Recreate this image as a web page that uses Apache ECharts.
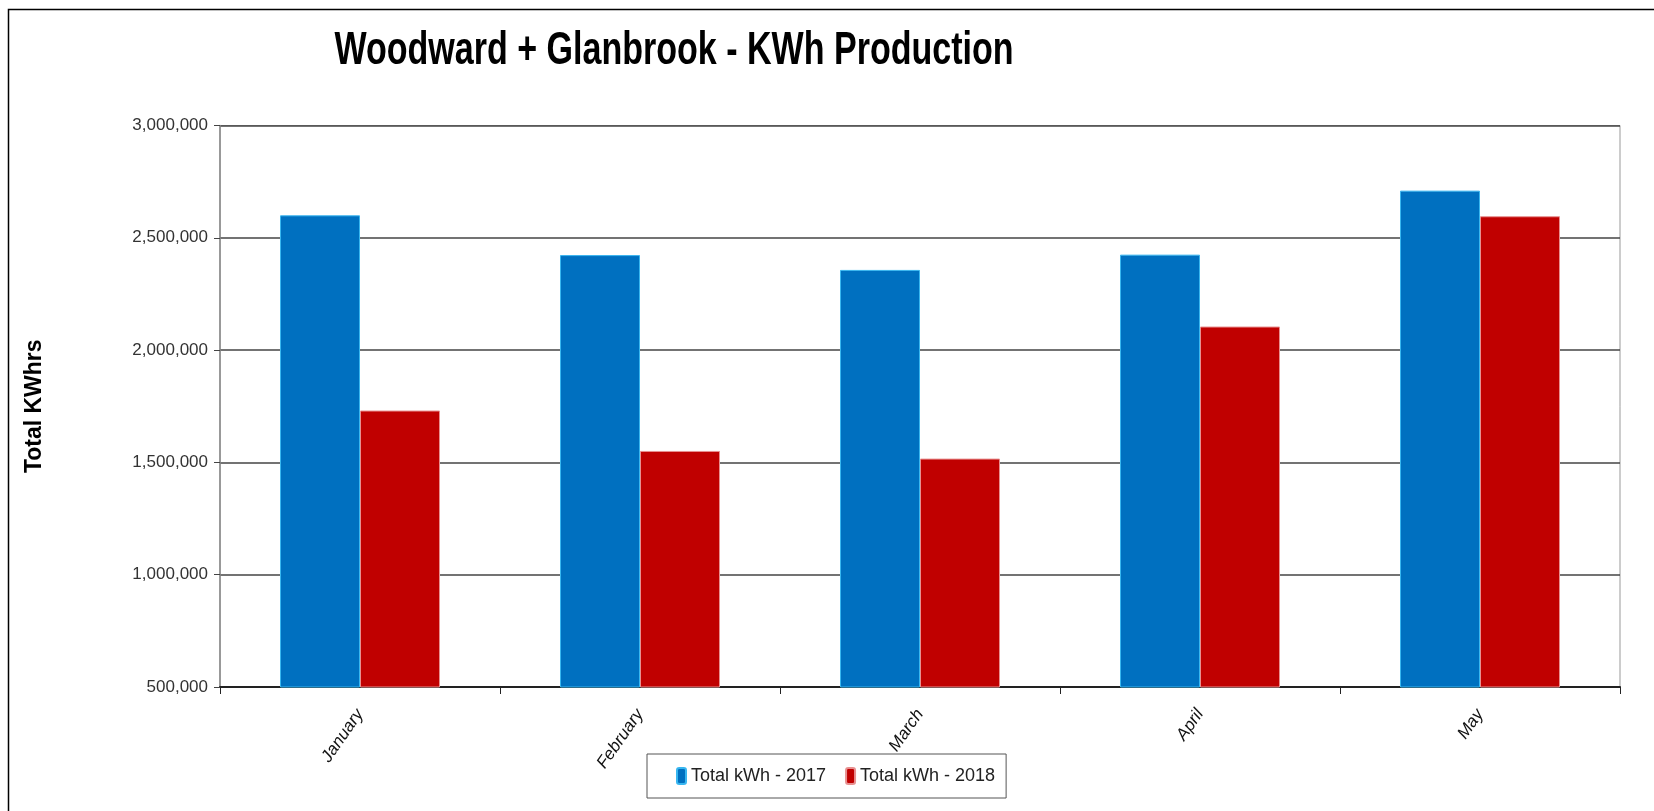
<!DOCTYPE html>
<html>
<head>
<meta charset="utf-8">
<script src="https://cdn.jsdelivr.net/npm/echarts@6/dist/echarts.min.js"></script>
<style>
html,body{margin:0;padding:0;background:#fff;}
#chart{width:1654px;height:811px;}
</style>
</head>
<body>
<div id="chart"></div>
<script>
const categories = ['January', 'February', 'March', 'April', 'May'];
const kwh2017 = [2600000, 2423000, 2357000, 2425000, 2710000];
const kwh2018 = [1731000, 1551000, 1517000, 2105000, 2596000];
const seriesNames = ['Total kWh - 2017', 'Total kWh - 2018'];
const titleText = 'Woodward + Glanbrook - KWh Production';
const yAxisName = 'Total KWhrs';

const chart = echarts.init(document.getElementById('chart'), null, {renderer: 'canvas'});
chart.setOption({
  animation: false,
  backgroundColor: '#fff',
  graphic: [{
    type: 'rect', left: 6, top: 7, silent: true,
    shape: {width: 1700, height: 900},
    style: {fill: 'none', stroke: '#000', lineWidth: 1.5}
  }, {
    type: 'text', x: 674, y: 51, scaleX: 0.74, silent: true,
    style: {
      text: titleText, fill: '#000',
      font: 'bold 46px "Liberation Sans", Arial, sans-serif',
      align: 'center', verticalAlign: 'middle'
    }
  }],
  legend: {
    data: seriesNames,
    left: 647, top: 754,
    padding: [13, 11, 13, 29],
    borderColor: '#555', borderWidth: 1,
    itemWidth: 9, itemHeight: 16, itemGap: 19,
    textStyle: {fontFamily: '"Liberation Sans", Arial', fontSize: 18, color: '#222'}
  },
  grid: {
    left: 220, right: 34, top: 125.5, bottom: 124,
    show: true, borderColor: '#999', borderWidth: 1
  },
  xAxis: {
    type: 'category', data: categories, boundaryGap: true,
    axisLine: {show: true, lineStyle: {color: '#222', width: 2}},
    axisTick: {show: true, length: 7, lineStyle: {color: '#222'}},
    axisLabel: {rotate: 55, fontStyle: 'italic', fontFamily: '"Liberation Sans", Arial', fontSize: 17, color: '#111', margin: 24}
  },
  yAxis: {
    type: 'value', min: 500000, max: 3000000, interval: 500000,
    name: yAxisName, nameLocation: 'middle', nameGap: 174, nameRotate: 90,
    nameTextStyle: {fontFamily: '"Liberation Sans", Arial', fontWeight: 'bold', fontSize: 23, color: '#000'},
    axisLine: {show: true, lineStyle: {color: '#888', width: 1.5}},
    axisTick: {show: true, length: 6, lineStyle: {color: '#444'}},
    splitLine: {show: true, lineStyle: {color: '#444', width: 1.5}},
    axisLabel: {
      fontFamily: '"Liberation Sans", Arial', fontSize: 17, color: '#333', margin: 12,
      formatter: v => v.toLocaleString('en-US')
    }
  },
  series: [
    {name: seriesNames[0], type: 'bar', data: kwh2017, barWidth: 80, barGap: '0%',
     itemStyle: {color: '#0070C0', borderColor: '#38B6F0', borderWidth: 1}},
    {name: seriesNames[1], type: 'bar', data: kwh2018, barWidth: 80, barGap: '0%',
     itemStyle: {color: '#C00000', borderColor: '#E89090', borderWidth: 1}}
  ]
});
</script>
</body>
</html>
